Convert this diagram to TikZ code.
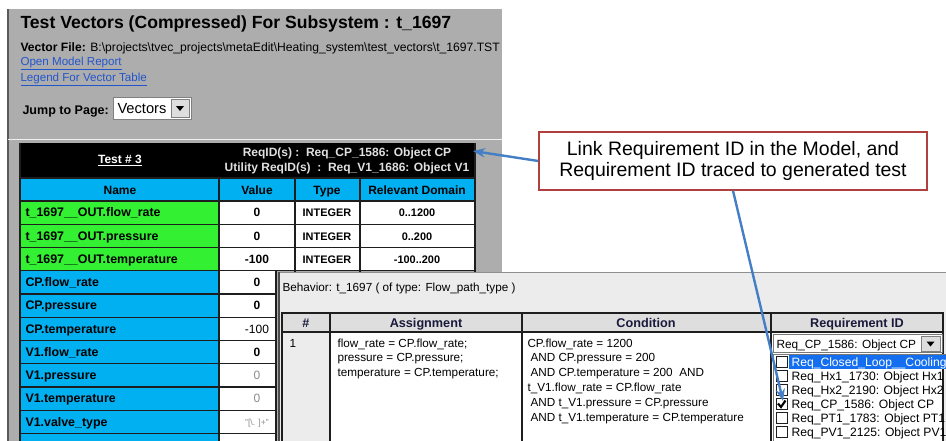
\documentclass[tikz,border=0pt]{standalone}
\usepackage{fontspec}
\setmainfont{Liberation Sans}
\usetikzlibrary{arrows.meta}

\definecolor{panelgray}{RGB}{173,173,173}
\definecolor{panelline}{RGB}{90,90,90}
\definecolor{gridblack}{RGB}{30,30,30}
\definecolor{tblblue}{RGB}{0,176,240}
\definecolor{tblgreen}{RGB}{51,240,51}
\definecolor{wingray}{RGB}{236,236,236}
\definecolor{hdrgray}{RGB}{222,222,222}
\definecolor{hdrnavy}{RGB}{25,25,60}
\definecolor{selblue}{RGB}{20,110,240}
\definecolor{linkblue}{RGB}{34,85,204}
\definecolor{arrowblue}{RGB}{68,126,196}
\definecolor{boxred}{RGB}{176,64,64}
\definecolor{dimtext}{RGB}{140,140,140}

\tikzset{every picture/.style={line width=0.75pt}}
\tikzset{
  cellline/.style={draw=gridblack, line width=1.1pt},
  rowname/.style={anchor=base west, inner sep=0.75pt, font=\bfseries\fontsize{9.3}{11}\selectfont},
  cellval/.style={anchor=base, inner sep=0.75pt, font=\bfseries\fontsize{9}{11}\selectfont},
  cellsmall/.style={anchor=base, inner sep=0.75pt, font=\bfseries\fontsize{8.2}{10}\selectfont},
  wintext/.style={anchor=base west, inner sep=0.75pt, font=\fontsize{8.8}{10}\selectfont},
  winhead/.style={anchor=base, inner sep=0.75pt, text=hdrnavy, font=\bfseries\fontsize{9.5}{11}\selectfont},
  listitem/.style={anchor=base west, inner sep=0.75pt, font=\fontsize{9.1}{10}\selectfont},
  checkbox/.style={draw=gridblack, fill=white, line width=0.6pt},
  weblink/.style={anchor=base west, inner sep=0.75pt, text=linkblue, font=\fontsize{8.7}{10}\selectfont},
  traceline/.style={draw=arrowblue, line width=1.8pt, -{Stealth[length=9pt,width=7pt]}},
}

\begin{document}
\begin{tikzpicture}[x=0.75pt,y=0.75pt,yscale=-1,xscale=1]
\useasboundingbox (0,0) rectangle (946,440);

%Shape: Rectangle (report page)
\fill[panelgray] (8,9) rectangle (502,445);
\draw[panelline, line width=1.2pt] (8,9) -- (8,445);
\draw[white!80!panelgray, line width=1pt] (8,139.5) -- (502,139.5);

% Text Node
\draw (20,28) node (title) [anchor=base west][inner sep=0pt] [font=\bfseries\fontsize{13.2}{15}\selectfont] {Test Vectors (Compressed) For Subsystem : t\_1697};
% Text Node
\draw (20,51) node (vecfile) [anchor=base west][inner sep=0pt] [font=\fontsize{9.1}{10}\selectfont] {\textbf{Vector File:} B:\textbackslash projects\textbackslash tvec\_projects\textbackslash metaEdit\textbackslash Heating\_system\textbackslash test\_vectors\textbackslash t\_1697.TST};
% Text Node
\draw (19,65) node (modelrep) [weblink] {\underline{Open Model Report}};
% Text Node
\draw (19,81) node (legend) [weblink] {\underline{Legend For Vector Table}};
% Text Node
\draw (22,114) node (jumplbl) [anchor=base west][inner sep=0pt] [font=\bfseries\fontsize{9.4}{11}\selectfont] {Jump to Page:};

%Shape: Rectangle (page select)
\draw[draw=gray, fill=white] (113,97) rectangle (191,119);
\draw[draw=gray, fill=hdrgray] (171,99) rectangle (189,117);
\fill (176,106) -- (184,106) -- (180,111) -- cycle;
% Text Node
\draw (117,113) node (jumpsel) [anchor=base west][inner sep=0pt] [font=\fontsize{11}{13}\selectfont] {Vectors};

%Shape: Rectangle (vector table)
\fill[black] (20,143) rectangle (475,178);
\fill[tblblue] (20,178) rectangle (475,201);
\fill[tblgreen] (20,201) rectangle (219,270.75);
\fill[tblblue] (20,270.75) rectangle (219,445);
\fill[white] (219,201) rectangle (475,270.75);
\fill[white] (219,270.75) rectangle (276,445);
\draw[cellline] (20,178) -- (475,178) (20,201) -- (475,201) (20,224.25) -- (475,224.25) (20,247.5) -- (475,247.5) (20,270.75) -- (475,270.75) (20,294) -- (276,294) (20,317.25) -- (276,317.25) (20,340.5) -- (276,340.5) (20,363.75) -- (276,363.75) (20,387) -- (276,387) (20,410.25) -- (276,410.25) (20,433.5) -- (276,433.5) (20,143) -- (20,445) (219,178) -- (219,445) (295,178) -- (295,272) (360,178) -- (360,272) (475,143) -- (475,272) (276,270.75) -- (276,445) ;

% Text Node
\draw (120,163) node (testno) [cellval] [text=white] {\underline{Test \# 3}};
% Text Node
\draw (347,156) node (reqid) [cellval] [text=white!88!black] {ReqID(s) :\ \ Req\_CP\_1586: Object CP};
% Text Node
\draw (347,171) node (utilreqid) [cellval] [text=white!88!black] {Utility ReqID(s)\ \ :\ \ Req\_V1\_1686: Object V1};
% Text Node
\draw (120,194) node (hname) [cellval] {Name};
\draw (257,194) node (hvalue) [cellval] {Value};
\draw (327,194) node (htype) [cellval] {Type};
\draw (417,194) node (hdomain) [cellval] {Relevant Domain};

% Text Node
\draw (24,216.9) node (n1) [rowname] {t\_1697\_\_OUT.flow\_rate};
\draw (24,240.2) node (n2) [rowname] {t\_1697\_\_OUT.pressure};
\draw (24,263.4) node (n3) [rowname] {t\_1697\_\_OUT.temperature};
\draw (24,286.7) node (n4) [rowname] {CP.flow\_rate};
\draw (24,309.9) node (n5) [rowname] {CP.pressure};
\draw (24,333.2) node (n6) [rowname] {CP.temperature};
\draw (24,356.4) node (n7) [rowname] {V1.flow\_rate};
\draw (24,379.7) node (n8) [rowname] {V1.pressure};
\draw (24,402.9) node (n9) [rowname] {V1.temperature};
\draw (24,426.2) node (n10) [rowname] {V1.valve\_type};

% Text Node
\draw (257,216.9) node (v1) [cellval] {0};
\draw (257,240.2) node (v2) [cellval] {0};
\draw (257,263.4) node (v3) [cellval] {-100};
\draw (257,286.7) node (v4) [cellval] {0};
\draw (257,309.9) node (v5) [cellval] {0};
\draw (257,333.2) node (v6) [cellval] [font=\fontsize{9}{11}\selectfont] {-100};
\draw (257,356.4) node (v7) [cellval] {0};
\draw (257,379.7) node (v8) [cellval] [text=dimtext, font=\fontsize{9}{11}\selectfont] {0};
\draw (257,402.9) node (v9) [cellval] [text=dimtext, font=\fontsize{9}{11}\selectfont] {0};
\draw (257,425.5) node (v10) [cellval] [text=dimtext, font=\fontsize{6.5}{8}\selectfont] {"[\textbackslash . ]+"};

% Text Node
\draw (327,216.9) node (ty1) [cellsmall] {INTEGER};
\draw (327,240.2) node (ty2) [cellsmall] {INTEGER};
\draw (327,263.4) node (ty3) [cellsmall] {INTEGER};
\draw (417,216.9) node (d1) [cellsmall] {0..1200};
\draw (417,240.2) node (d2) [cellsmall] {0..200};
\draw (417,263.4) node (d3) [cellsmall] {-100..200};

%Shape: Rectangle (behavior window)
\fill[wingray] (278,272) rectangle (950,445);
\draw[gridblack!50, line width=0.6pt] (279,272) -- (950,272);
\draw[gridblack!80, line width=1.5pt] (279,272) -- (279,445);
% Text Node
\draw (281,291) node (behav) [wintext] {Behavior: t\_1697 ( of type: Flow\_path\_type )};

%Shape: Rectangle (behavior table)
\fill[hdrgray] (282,313) rectangle (943,332);
\fill[white] (330,332) rectangle (943,450);
\draw[gridblack, line width=1.3pt] (282,313) rectangle (943,450) (282,332) -- (943,332) (330,313) -- (330,450) (522,313) -- (522,450) (771,313) -- (771,450) ;

% Text Node
\draw (306,327) node (hnum) [winhead] {\#};
\draw (426,327) node (hassign) [winhead] {Assignment};
\draw (646,327) node (hcond) [winhead] {Condition};
\draw (857,327) node (hreq) [winhead] {Requirement ID};

% Text Node
\draw (288,347) node (rownum) [wintext] {1};
\draw (336,347) node (as1) [wintext] {flow\_rate = CP.flow\_rate;};
\draw (336,361.5) node (as2) [wintext] {pressure = CP.pressure;};
\draw (336,376) node (as3) [wintext] {temperature = CP.temperature;};
\draw (526,347) node (c1) [wintext] {CP.flow\_rate = 1200};
\draw (529,361.8) node (c2) [wintext] {AND CP.pressure = 200};
\draw (529,376.6) node (c3) [wintext] {AND CP.temperature = 200\ \ AND};
\draw (526,391.4) node (c4) [wintext] {t\_V1.flow\_rate = CP.flow\_rate};
\draw (529,406.2) node (c5) [wintext] {AND t\_V1.pressure = CP.pressure};
\draw (529,421) node (c6) [wintext] {AND t\_V1.temperature = CP.temperature};

%Shape: Rectangle (requirement select)
\draw[draw=gridblack!60, fill=white] (773,334) rectangle (942,352);
\draw[draw=gray, fill=hdrgray] (921,336) rectangle (940,351);
\fill (926.5,341.5) -- (934.5,341.5) -- (930.5,346.5) -- cycle;
\draw (775,348) node (reqsel) [listitem] [font=\fontsize{8.9}{10}\selectfont] {Req\_CP\_1586: Object CP};
\draw[draw=gridblack!60] (773,354) rectangle (950,450);
\fill[selblue] (789,355) rectangle (950,368.5);

%Shape: Square (check boxes)
\draw[checkbox] (776,356.5) rectangle (787,367.5);
\draw[checkbox] (776,370.5) rectangle (787,381.5);
\draw[checkbox] (776,384.5) rectangle (787,395.5);
\draw[checkbox] (776,398.5) rectangle (787,409.5);
\draw[checkbox] (776,412.5) rectangle (787,423.5);
\draw[checkbox] (776,426.5) rectangle (787,437.5);
\draw[line width=1.6pt] (778,403.5) -- (781,407) -- (785.5,400.5);

% Text Node
\draw (790,366) node (r1) [listitem] [text=white] {Req\_Closed\_Loop\_\_Cooling};
\draw (790,380) node (r2) [listitem] {Req\_Hx1\_1730: Object Hx1};
\draw (790,394) node (r3) [listitem] {Req\_Hx2\_2190: Object Hx2};
\draw (790,408) node (r4) [listitem] {Req\_CP\_1586: Object CP};
\draw (790,422) node (r5) [listitem] {Req\_PT1\_1783: Object PT1};
\draw (790,436) node (r6) [listitem] {Req\_PV1\_2125: Object PV1};

%Shape: Rectangle (note)
\draw (733,161) node (link) [draw=boxred, line width=1pt, fill=white, minimum width=291pt, minimum height=43.5pt, inner sep=0pt, align=center, font=\fontsize{14.6}{15.8}\selectfont] {Link Requirement ID in the Model, and\\Requirement ID traced to generated test};

\coordinate (reqtag) at (473,151);
\coordinate (reqbox) at (783,401);
%Straight Lines
\draw[traceline] (link.west) -- (reqtag);
\draw[traceline] (link.south) -- (reqbox);

\end{tikzpicture}
\end{document}
